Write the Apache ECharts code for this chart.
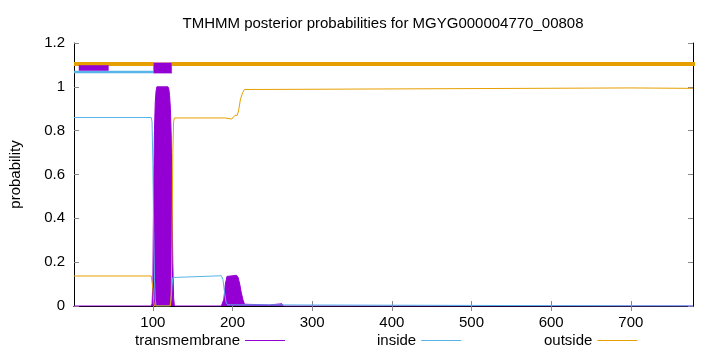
<!DOCTYPE html>
<html>
<head>
<meta charset="utf-8">
<script src="https://cdn.jsdelivr.net/npm/echarts@6/dist/echarts.min.js"></script>
<style>
  html, body { margin: 0; padding: 0; background: #fff; }
  #pic1 { width: 720px; height: 352px; }
</style>
</head>
<body>
<div id="pic1"></div>
<script>
// posterior probabilities (position -> probability)
var tmX = [1, 98, 99, 100, 101, 102, 103, 104, 105, 119, 120, 121, 122, 123, 124, 125, 126, 127,
           186, 187, 189, 191, 193, 195, 205, 207, 209, 211, 213, 215, 216, 246, 248, 262, 264, 778];
var tmY = [0, 0, 0.01, 0.1, 0.55, 0.8, 0.93, 0.98, 1.0, 1.0, 0.99, 0.96, 0.9, 0.78, 0.5, 0.2, 0.04, 0,
           0, 0.005, 0.03, 0.1, 0.135, 0.14, 0.14, 0.13, 0.1, 0.06, 0.03, 0.008, 0.005, 0.005, 0.01, 0.01, 0, 0];

var insideX = [1, 98, 99, 100, 101, 102, 103, 104, 121, 122, 123, 124, 125, 126,
               186, 188, 190, 192, 194, 260, 262, 778];
var insideY = [0.86, 0.86, 0.84, 0.65, 0.35, 0.12, 0.03, 0, 0, 0.01, 0.04, 0.09, 0.13, 0.138,
               0.138, 0.12, 0.06, 0.015, 0.005, 0.005, 0, 0];

var outsideX = [1, 98, 99, 100, 101, 102, 122, 123, 124, 125, 126, 127,
                191, 192, 199, 200, 203, 206, 208, 210, 212, 213, 215, 236, 238, 700, 778];
var outsideY = [0.137, 0.137, 0.13, 0.08, 0.02, 0, 0, 0.05, 0.3, 0.7, 0.84, 0.858,
                0.858, 0.853, 0.853, 0.858, 0.87, 0.87, 0.9, 0.945, 0.95, 0.975, 0.988, 0.988, 0.995, 0.995, 0.993];

// predicted topology strip at the top of the plot
var topOutside = [1, 812];
var topInside = [1, 100.5];
var topTm = [[7, 44.5], [101, 123.5]];

var xTicks = [100, 200, 300, 400, 500, 600, 700];

function pairs(xs, ys) {
  var out = [];
  for (var i = 0; i < xs.length; i++) out.push([xs[i], ys[i]]);
  return out;
}

var font = 'Liberation Sans';
var myChart = echarts.init(document.getElementById('pic1'));

var axisX = {
  type: 'value', min: 1, max: 778,
  axisLine: { show: true, lineStyle: { color: '#000', width: 1 } },
  axisTick: { show: true, inside: true, length: 5, customValues: xTicks, lineStyle: { color: '#888' } },
  splitLine: { show: false }
};
var axisY = {
  type: 'value', min: 0, max: 1.2, interval: 0.2,
  axisLine: { show: true, lineStyle: { color: '#000', width: 1 } },
  axisTick: { show: true, inside: true, length: 5, lineStyle: { color: '#888' } },
  splitLine: { show: false }
};

// gnuplot style key: text first, sample line after it
function legendAt(name, left, textW) {
  return {
    data: [name], left: left, top: 333, padding: 0, align: 'right', icon: 'rect',
    itemWidth: 40, itemHeight: 1,
    textStyle: { fontFamily: font, fontSize: 15, color: '#000', width: textW }
  };
}

var option = {
  animation: false,
  title: {
    text: 'TMHMM posterior probabilities for MGYG000004770_00808',
    left: 378, top: 11, textAlign: 'center',
    textStyle: { fontFamily: font, fontSize: 15, fontWeight: 'normal', color: '#000' }
  },
  grid: { left: 73, right: 27, top: 43, bottom: 46 },
  legend: [legendAt('transmembrane', 135, 109), legendAt('inside', 377, 44), legendAt('outside', 544, 53)],
  xAxis: [
    Object.assign({}, axisX, {
      position: 'bottom',
      axisLabel: { customValues: xTicks, margin: 9, fontFamily: font, fontSize: 15, color: '#000' }
    }),
    Object.assign({}, axisX, { position: 'top', axisLabel: { show: false } })
  ],
  yAxis: [
    Object.assign({}, axisY, {
      position: 'left',
      name: 'probability', nameLocation: 'middle', nameGap: 51,
      nameTextStyle: { fontFamily: font, fontSize: 15, color: '#000' },
      axisLabel: { margin: 9, fontFamily: font, fontSize: 15, color: '#000' }
    }),
    Object.assign({}, axisY, { position: 'right', axisLabel: { show: false } })
  ],
  series: [
    {
      name: 'transmembrane', type: 'line', data: pairs(tmX, tmY),
      showSymbol: false, color: '#9400D3', z: 2,
      lineStyle: { width: 1, color: '#9400D3' },
      areaStyle: { color: '#9400D3', opacity: 1 }
    },
    {
      name: 'inside', type: 'line', data: pairs(insideX, insideY),
      showSymbol: false, color: '#56B4E9', z: 3,
      lineStyle: { width: 1, color: '#56B4E9' }
    },
    {
      name: 'outside', type: 'line', data: pairs(outsideX, outsideY),
      showSymbol: false, color: '#E69F00', z: 4,
      lineStyle: { width: 1, color: '#E69F00' }
    },
    {
      name: 'topOutside', type: 'line', clip: false, showSymbol: false, z: 5,
      data: [[topOutside[0], 1.104], [topOutside[1], 1.104]],
      lineStyle: { width: 4, color: '#E69F00' }
    },
    {
      name: 'topInside', type: 'line', clip: false, showSymbol: false, z: 5,
      data: [[topInside[0], 1.068], [topInside[1], 1.068]],
      lineStyle: { width: 2.5, color: '#56B4E9' }
    },
    {
      name: 'topTm1', type: 'line', clip: false, showSymbol: false, z: 6,
      data: [[topTm[0][0], 1.086], [topTm[0][1], 1.086]],
      lineStyle: { width: 5.5, color: '#9400D3' }
    },
    {
      name: 'topTm2edge', type: 'line', clip: false, showSymbol: false, z: 6,
      data: [[topTm[1][0] - 0.6, 1.086], [topTm[1][1] + 0.6, 1.086]],
      lineStyle: { width: 11.5, color: '#c480ea' }
    },
    {
      name: 'topTm2', type: 'line', clip: false, showSymbol: false, z: 7,
      data: [[topTm[1][0], 1.086], [topTm[1][1], 1.086]],
      lineStyle: { width: 10, color: '#9400D3' }
    }
  ]
};

myChart.setOption(option);
</script>
</body>
</html>
